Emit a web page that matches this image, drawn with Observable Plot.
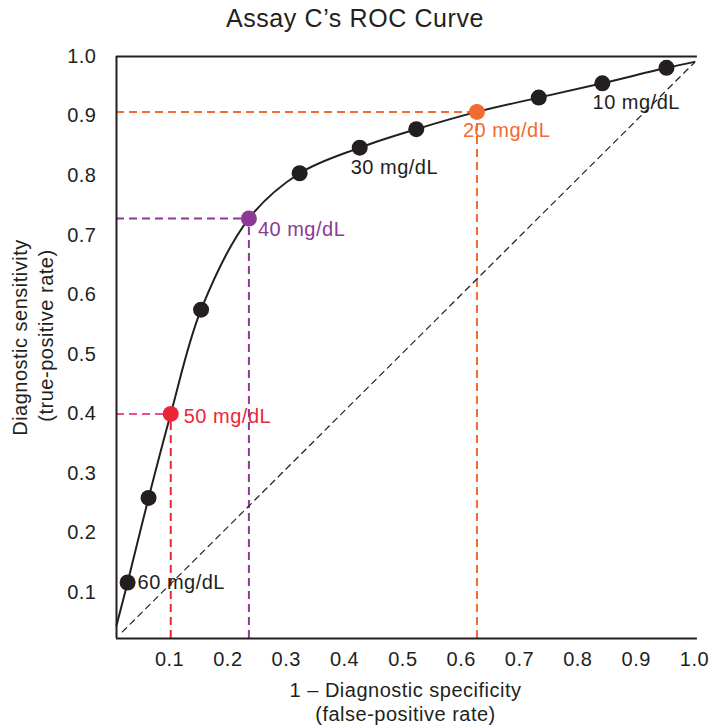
<!DOCTYPE html>
<html>
<head>
<meta charset="utf-8">
<script src="https://cdn.jsdelivr.net/npm/d3@7"></script>
<script src="https://cdn.jsdelivr.net/npm/@observablehq/plot@0.6"></script>
<style>
  html, body { margin: 0; padding: 0; background: #fff; }
  #wrap { position: relative; width: 710px; height: 727px; font-family: "Liberation Sans", Arial, sans-serif; }
  #title { position: absolute; left: 0; top: 3px; width: 710px; text-align: center; font-size: 25px; letter-spacing: 0.6px; color: #231f20; line-height: 30px; }
  #chart { position: absolute; left: 0; top: 0; }
  #chart svg text { letter-spacing: 0.5px; }
</style>
</head>
<body>
<div id="wrap">
  <div id="chart"></div>
  <div id="title"></div>
</div>
<script>
// ---- data ----
const titleText = "Assay C’s ROC Curve";
const xTicks = [0.1, 0.2, 0.3, 0.4, 0.5, 0.6, 0.7, 0.8, 0.9, 1.0];
const yTicks = [0.1, 0.2, 0.3, 0.4, 0.5, 0.6, 0.7, 0.8, 0.9, 1.0];
const xLabelLines = ["1 – Diagnostic specificity", "(false-positive rate)"];
const yLabelLines = ["Diagnostic sensitivity", "(true-positive rate)"];
// operating points (1 - specificity, sensitivity)
const fpr = [0.028, 0.064, 0.102, 0.154, 0.236, 0.323, 0.426, 0.523, 0.627, 0.733, 0.842, 0.952];
const tpr = [0.117, 0.259, 0.400, 0.575, 0.728, 0.804, 0.847, 0.878, 0.907, 0.931, 0.955, 0.981];
const cutoffLabels = ["60 mg/dL", "", "50 mg/dL", "", "40 mg/dL", "", "30 mg/dL", "", "20 mg/dL", "", "", "10 mg/dL"];
// curve end points
const curveStartX = 0.009, curveStartY = 0.045;
const curveEndX = 1.0, curveEndY = 0.991;
// chance diagonal
const diagX = [0.019, 1.0];
const diagY = [0.034, 0.990];
// axis extents
const xMin = 0.009, xMax = 1.0, xAxisEnd = 1.005;
const yMin = 0.023, yMax = 1.0;

// ---- build tables ----
const pts = fpr.map((x, i) => ({x, y: tpr[i], label: cutoffLabels[i]}));
const curve = [{x: curveStartX, y: curveStartY}, ...pts, {x: curveEndX, y: curveEndY}];
const diag = diagX.map((x, i) => ({x, y: diagY[i]}));

const ink = "#231f20";
const red = "#ec2636", pink = "#ee4b96", orange = "#f26b2f", purple = "#8b3a96";
const hi = {
  "50 mg/dL": {h: pink, v: red, dot: red, dx: 13, dy: 3},
  "40 mg/dL": {h: purple, v: purple, dot: purple, dx: 9, dy: 11},
  "20 mg/dL": {h: orange, v: orange, dot: orange, dx: -14, dy: 19}
};
const plainOffsets = {
  "60 mg/dL": {dx: 10, dy: 0},
  "30 mg/dL": {dx: -9, dy: 20},
  "10 mg/dL": {dx: -74, dy: 35}
};

const marks = [];
// guide dashed lines
for (const [lab, s] of Object.entries(hi)) {
  const p = pts.find(d => d.label === lab);
  marks.push(Plot.ruleY([p], {x1: xMin, x2: "x", y: "y", stroke: s.h, strokeWidth: 2, strokeDasharray: "8,5"}));
  marks.push(Plot.ruleX([p], {x: "x", y1: yMin, y2: "y", stroke: s.v, strokeWidth: 2, strokeDasharray: "8,5"}));
}
// diagonal
marks.push(Plot.line(diag, {x: "x", y: "y", stroke: ink, strokeWidth: 1.2, strokeDasharray: "6,5"}));
// axes frame lines
marks.push(Plot.ruleX([xMin], {y1: yMin, y2: yMax, stroke: ink, strokeWidth: 2}));
marks.push(Plot.ruleY([yMin], {x1: xMin, x2: xAxisEnd, stroke: ink, strokeWidth: 2.2}));
marks.push(Plot.ruleY([yMax], {x1: xMin, x2: xAxisEnd, stroke: ink, strokeWidth: 2}));
// ROC curve
marks.push(Plot.line(curve, {x: "x", y: "y", curve: "catmull-rom", stroke: ink, strokeWidth: 2}));
// points
marks.push(Plot.dot(pts, {x: "x", y: "y", r: 8, fill: d => hi[d.label] ? hi[d.label].dot : ink, stroke: null}));
// labels
for (const p of pts) {
  if (!p.label) continue;
  const s = hi[p.label] || plainOffsets[p.label];
  const col = hi[p.label] ? hi[p.label].dot : ink;
  marks.push(Plot.text([p], {x: "x", y: "y", text: "label", textAnchor: "start", dx: s.dx, dy: s.dy, fill: col, fontSize: 20}));
}
// axes
marks.push(Plot.axisX({ticks: xTicks, tickFormat: d3.format(".1f"), tickSize: 0, tickPadding: 13, fontSize: 20, label: null, color: ink}));
marks.push(Plot.axisY({ticks: yTicks, tickFormat: d3.format(".1f"), tickSize: 0, tickPadding: 20, fontSize: 20, label: null, color: ink}));
// axis titles
marks.push(Plot.text([xLabelLines[0]], {frameAnchor: "bottom", textAnchor: "middle", lineAnchor: "middle", dy: 52, fontSize: 20, fill: ink}));
marks.push(Plot.text([xLabelLines[1]], {frameAnchor: "bottom", textAnchor: "middle", lineAnchor: "middle", dy: 76, fontSize: 20, fill: ink}));
marks.push(Plot.text([yLabelLines[0]], {frameAnchor: "left", textAnchor: "middle", lineAnchor: "middle", rotate: -90, dx: -96, dy: -10, fontSize: 20, fill: ink}));
marks.push(Plot.text([yLabelLines[1]], {frameAnchor: "left", textAnchor: "middle", lineAnchor: "middle", rotate: -90, dx: -70, dy: -12, fontSize: 20, fill: ink}));

const chart = Plot.plot({
  width: 710,
  height: 727,
  marginLeft: 116,
  marginRight: 16,
  marginTop: 56,
  marginBottom: 89,
  style: {fontFamily: "'Liberation Sans', Arial, sans-serif", color: ink, background: "white"},
  x: {domain: [xMin, xMax]},
  y: {domain: [yMin, yMax]},
  marks
});
document.getElementById("chart").appendChild(chart);
document.getElementById("title").textContent = titleText;
</script>
</body>
</html>
